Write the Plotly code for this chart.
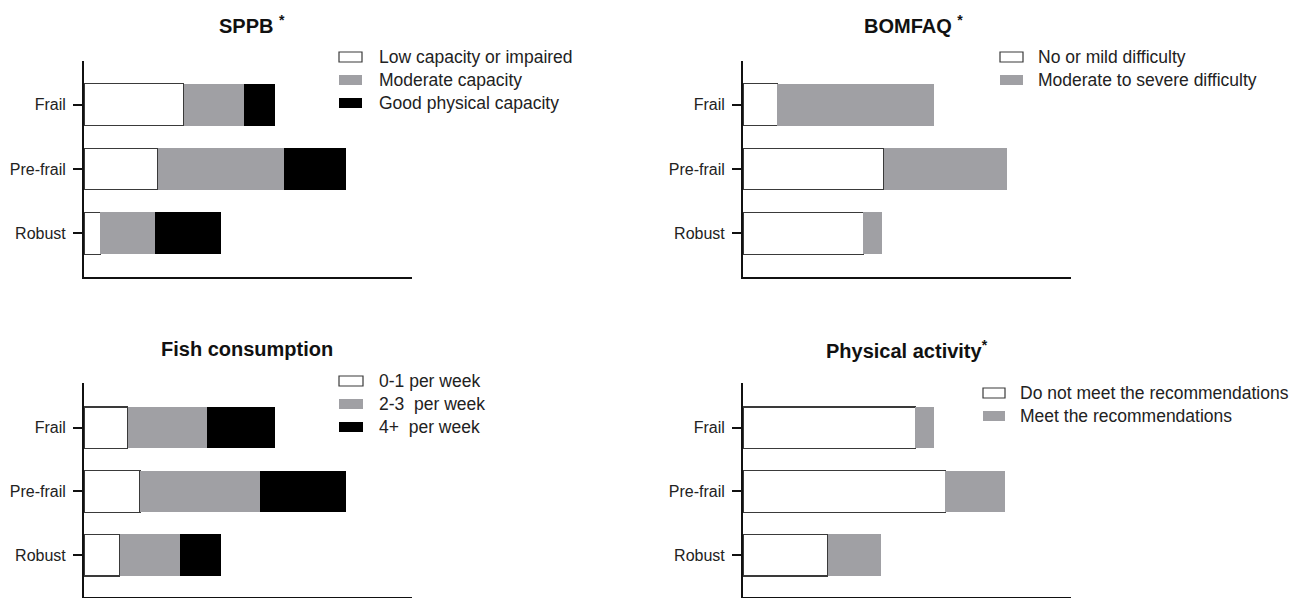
import plotly.graph_objects as go

# ---------------- data ----------------
categories = ["Frail", "Pre-frail", "Robust"]

sppb_title = "<b>SPPB</b> <sup><b>*</b></sup>"
sppb_names = ["Low capacity or impaired", "Moderate capacity", "Good physical capacity"]
sppb_low = [36.5, 27, 6]
sppb_moderate = [22, 46, 20]
sppb_good = [11.5, 23, 24]

bomfaq_title = "<b>BOMFAQ</b> <sup><b>*</b></sup>"
bomfaq_names = ["No or mild difficulty", "Moderate to severe difficulty"]
bomfaq_mild = [12.5, 51.5, 44]
bomfaq_severe = [57.5, 45, 7]

fish_title = "<b>Fish consumption</b>"
fish_names = ["0-1 per week", "2-3  per week", "4+  per week"]
fish_low = [16, 20.5, 13]
fish_mid = [29, 44, 22]
fish_high = [25, 31.5, 15]

pa_title = "<b>Physical activity<sup>*</sup></b>"
pa_names = ["Do not meet the recommendations", "Meet the recommendations"]
pa_not = [63, 74, 31]
pa_meet = [7, 22, 19.5]

# ---------------- styling ----------------
W, H = 1306, 598
FONT = "Liberation Sans, Arial, sans-serif"
WHITE, GRAY, BLACK = "#ffffff", "#a0a0a4", "#000000"
OUTLINE = "#3a3a3a"
fills = [WHITE, GRAY, BLACK]


def px(x):
    return x / W


def py(y):
    return 1 - y / H


panels = [
    dict(title=sppb_title, names=sppb_names, series=[sppb_low, sppb_moderate, sppb_good],
         xd=(84, 412), yd=(61, 277), yr=[2.68, -0.68], tpos=(217, 25),
         box=(339, 362), tx=377, rows=[57, 80, 103]),
    dict(title=bomfaq_title, names=bomfaq_names, series=[bomfaq_mild, bomfaq_severe],
         xd=(743, 1071), yd=(61, 277), yr=[2.68, -0.68], tpos=(862, 25),
         box=(1000, 1023), tx=1036, rows=[57, 80]),
    dict(title=fish_title, names=fish_names, series=[fish_low, fish_mid, fish_high],
         xd=(84, 412), yd=(383, 597), yr=[2.655, -0.70], tpos=(159, 349),
         box=(339, 363), tx=377, rows=[381, 404, 427]),
    dict(title=pa_title, names=pa_names, series=[pa_not, pa_meet],
         xd=(743, 1071), yd=(383, 597), yr=[2.655, -0.70], tpos=(824, 349),
         box=(983, 1005), tx=1018, rows=[393, 416]),
]

fig = go.Figure()
shapes = []
annotations = []
layout_axes = {}

for i, p in enumerate(panels, start=1):
    xa = "x" if i == 1 else f"x{i}"
    ya = "y" if i == 1 else f"y{i}"
    for j, (name, vals) in enumerate(zip(p["names"], p["series"])):
        col = fills[j]
        fig.add_trace(go.Bar(
            x=vals, y=categories, orientation="h", name=name,
            xaxis=xa, yaxis=ya, showlegend=False, hoverinfo="skip",
            marker=dict(color=col,
                        line=dict(color=OUTLINE if col == WHITE else col,
                                  width=1.2 if col == WHITE else 0)),
        ))
        ry = p["rows"][j]
        shapes.append(dict(
            type="rect", xref="paper", yref="paper",
            x0=px(p["box"][0]), x1=px(p["box"][1]),
            y0=py(ry + 5), y1=py(ry - 5),
            fillcolor=col,
            line=dict(color=OUTLINE if col == WHITE else col, width=1.2 if col == WHITE else 0),
        ))
        annotations.append(dict(
            text=name, xref="paper", yref="paper", x=px(p["tx"]), y=py(ry),
            xanchor="left", yanchor="middle", showarrow=False,
            font=dict(family=FONT, size=17.5, color="#222222"),
        ))
    annotations.append(dict(
        text=p["title"], xref="paper", yref="paper",
        x=px(p["tpos"][0]), y=py(p["tpos"][1]),
        xanchor="left", yanchor="middle", showarrow=False,
        font=dict(family=FONT, size=20, color="#111111"),
    ))
    xkey = "xaxis" if i == 1 else f"xaxis{i}"
    ykey = "yaxis" if i == 1 else f"yaxis{i}"
    layout_axes[xkey] = dict(
        domain=[px(p["xd"][0]), px(p["xd"][1])], anchor=ya,
        range=[0, 120], showline=True, linewidth=2, linecolor="#111111",
        showgrid=False, zeroline=False, ticks="", showticklabels=False, fixedrange=True,
    )
    layout_axes[ykey] = dict(
        domain=[py(p["yd"][1]), py(p["yd"][0])], anchor=xa,
        type="category", categoryorder="array", categoryarray=categories,
        range=p["yr"], showline=True, linewidth=2, linecolor="#111111",
        showgrid=False, zeroline=False, ticks="outside", ticklen=9, tickwidth=2,
        tickcolor="#111111", tickfont=dict(family=FONT, size=16, color="#222222"),
        ticklabelstandoff=4, fixedrange=True,
    )

fig.update_layout(
    width=W, height=H, autosize=False,
    margin=dict(l=0, r=0, t=0, b=0),
    template="none",
    paper_bgcolor="white", plot_bgcolor="white",
    barmode="stack", bargap=0.35,
    showlegend=False, hovermode=False,
    shapes=shapes, annotations=annotations,
    font=dict(family=FONT),
    **layout_axes,
)

fig.write_html("out.html",
               config={"displayModeBar": False, "staticPlot": True},
               post_script="document.body.style.margin='0';document.body.style.overflow='hidden';")
